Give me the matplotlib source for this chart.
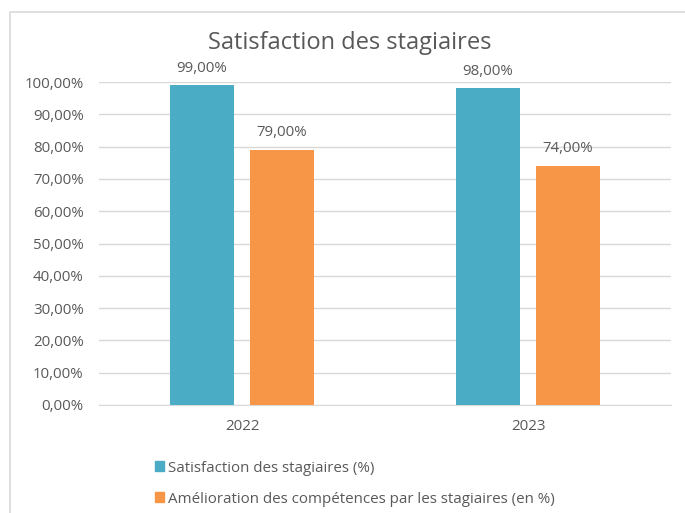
import numpy as np
import matplotlib.pyplot as plt
from matplotlib.patches import Rectangle, Patch

plt.rcParams.update({
    "font.family": ["Open Sans", "DejaVu Sans"],
    "font.size": 10.5,
    "text.color": "#595959",
    "xtick.color": "#595959",
    "ytick.color": "#595959",
})

years = ["2022", "2023"]
satisfaction = [99.0, 98.0]
amelioration = [79.0, 74.0]
series_labels = [
    "Satisfaction des stagiaires (%)",
    "Amélioration des compétences par les stagiaires (en %)",
]
colors = ["#4BACC6", "#F79646"]


def fmt_pct(v):
    return f"{v:.2f}".replace(".", ",") + "%"


fig = plt.figure(figsize=(6.85, 5.13), dpi=100)

# chart frame (only top and left edges visible in the crop)
fig.patches.append(Rectangle((10 / 685, -0.1), 1.2, 1 - 12 / 513 + 0.1,
                             transform=fig.transFigure, fill=False,
                             edgecolor="#D9D9D9", linewidth=1.2))

ax = fig.add_axes([99 / 685, 1 - 405 / 513, 572 / 685, 323 / 513])

x = np.arange(len(years))
width = 0.224
offset = 0.14

b1 = ax.bar(x - offset, satisfaction, width, color=colors[0], zorder=3)
b2 = ax.bar(x + offset, amelioration, width, color=colors[1], zorder=3)

for bars, vals in [(b1, satisfaction), (b2, amelioration)]:
    for rect, v in zip(bars, vals):
        ax.annotate(fmt_pct(v), (rect.get_x() + rect.get_width() / 2, v),
                    xytext=(0, 7), textcoords="offset points",
                    ha="center", va="bottom", fontsize=10.8, color="#595959")

ax.set_xlim(-0.5, 1.5)
ax.set_ylim(0, 100)
ax.set_yticks(np.arange(0, 101, 10))
ax.set_yticklabels([fmt_pct(v) for v in np.arange(0, 101, 10)])
ax.set_xticks(x)
ax.set_xticklabels(years)

ax.grid(axis="y", color="#D9D9D9", linewidth=1, zorder=0)
for s in ["top", "right", "left"]:
    ax.spines[s].set_visible(False)
ax.spines["bottom"].set_color("#D9D9D9")
ax.tick_params(axis="both", length=0, labelsize=10.8)
ax.tick_params(axis="x", pad=10)
ax.tick_params(axis="y", pad=11)

fig.text(350 / 685, 1 - 43 / 513, "Satisfaction des stagiaires",
         ha="center", va="center", fontsize=17, color="#595959")

handles = [Patch(color=c) for c in colors]
fig.legend(handles, series_labels, loc="upper left",
           bbox_to_anchor=(141 / 685, 1 - 447 / 513), frameon=False,
           fontsize=10.9, handlelength=0.6, handleheight=0.6,
           handletextpad=0.3, labelspacing=1.05, labelcolor="#595959")

fig.savefig("out.png", dpi=100)
